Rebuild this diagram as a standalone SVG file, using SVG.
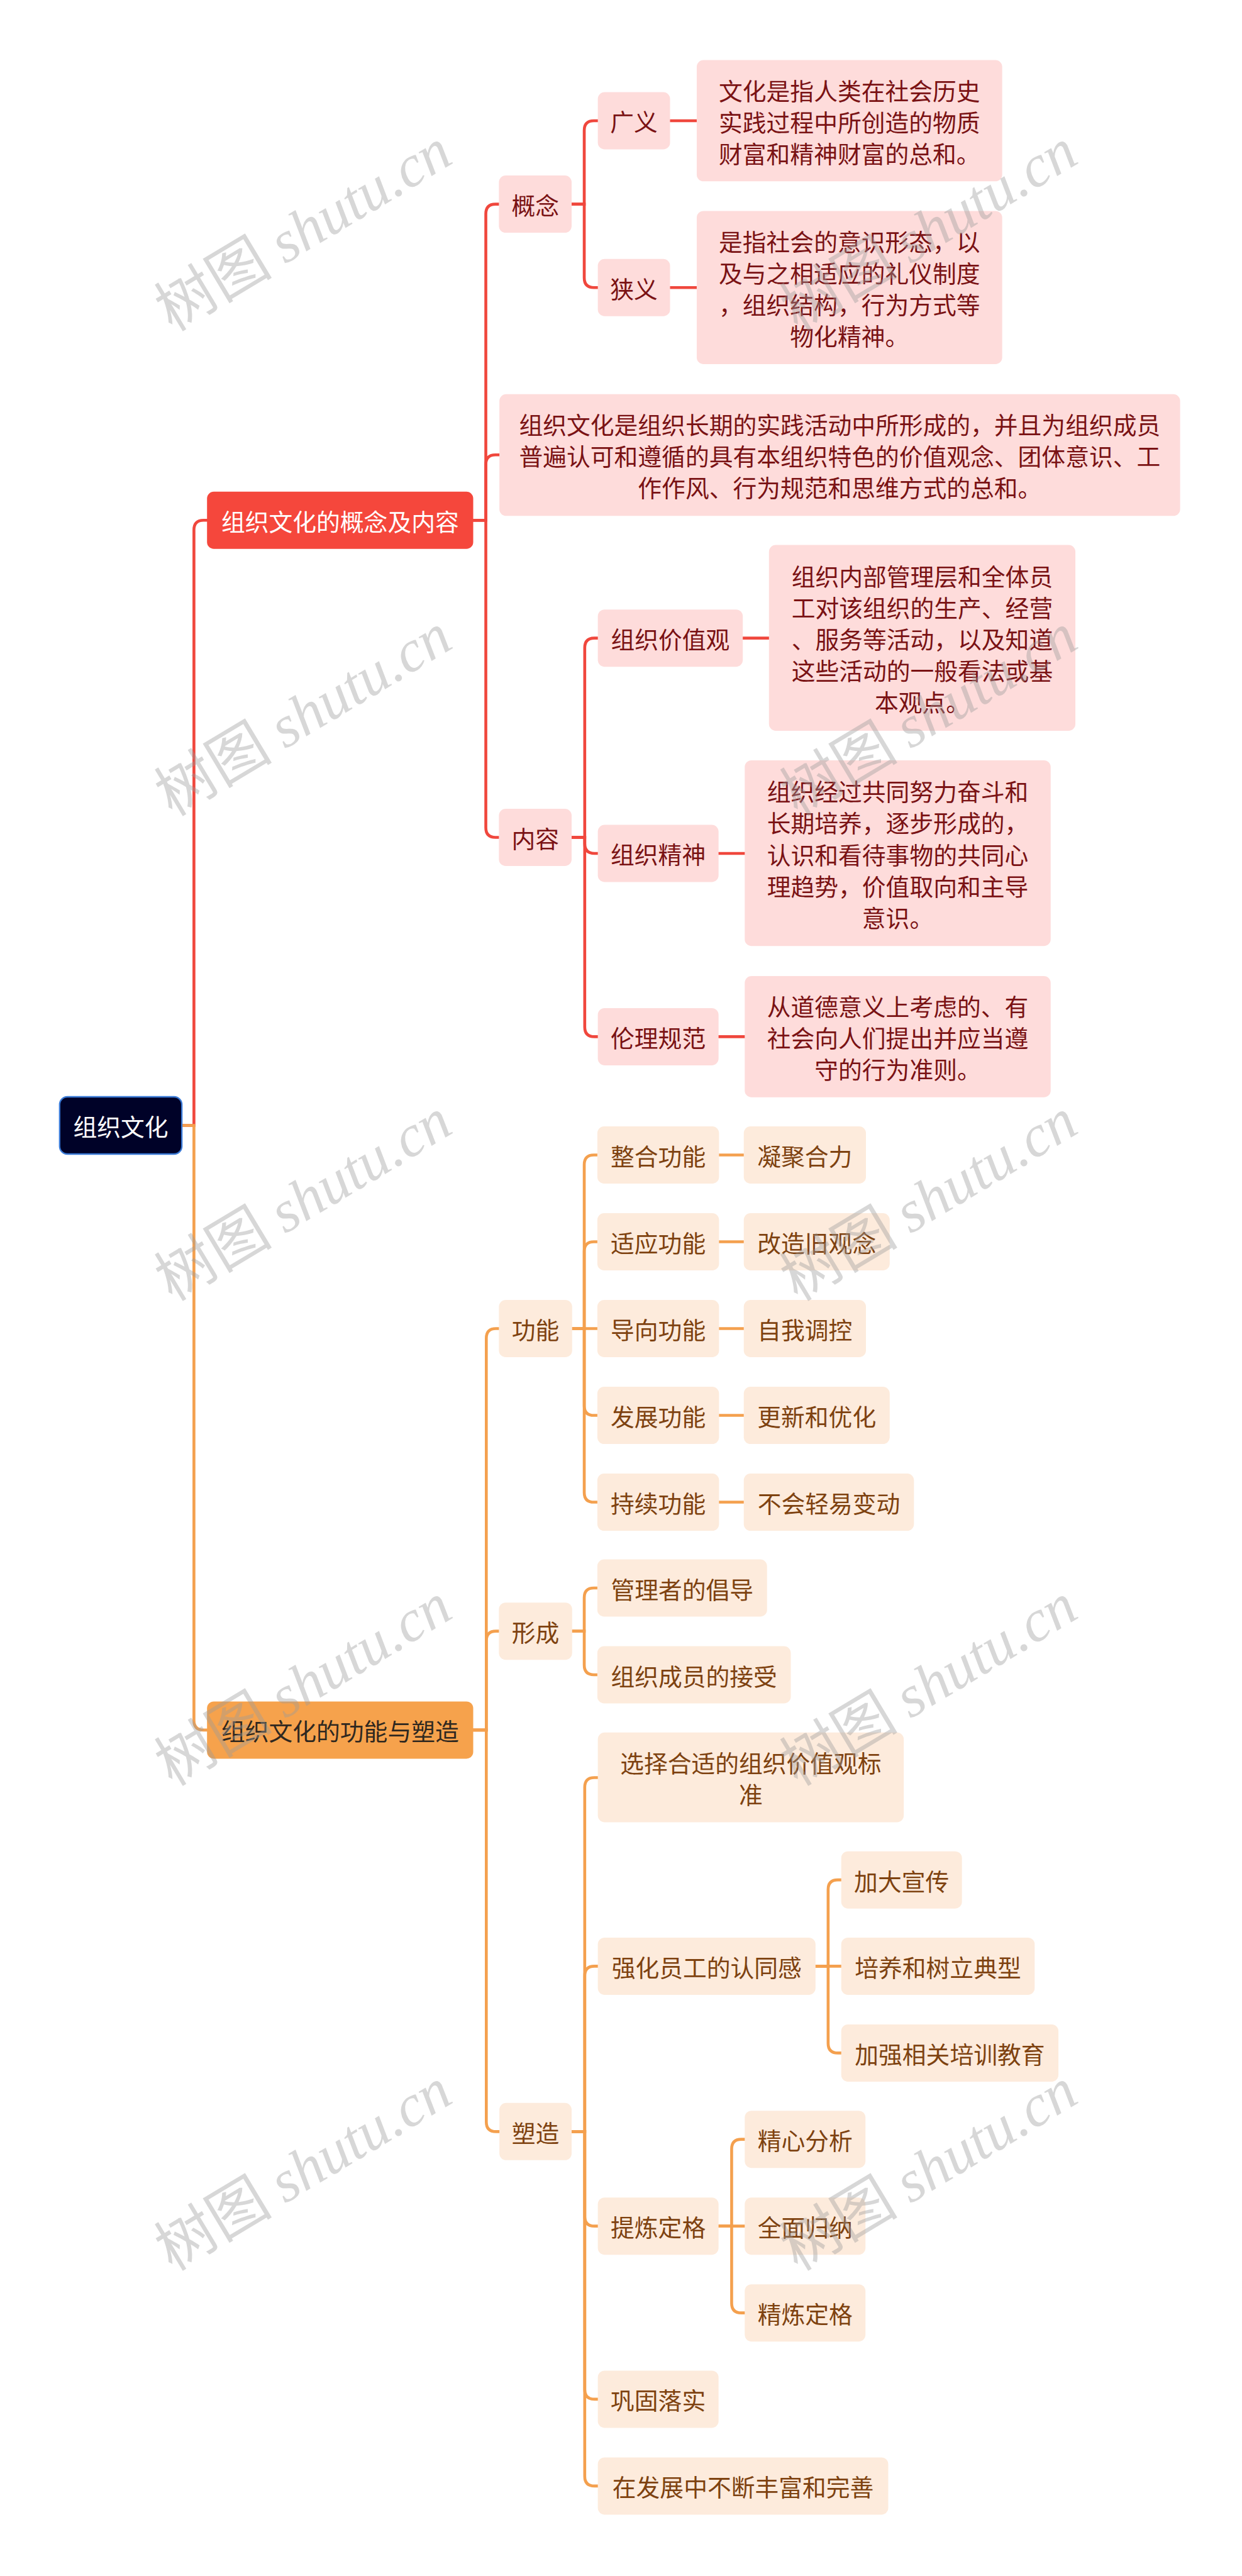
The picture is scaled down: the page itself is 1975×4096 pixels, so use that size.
<svg xmlns="http://www.w3.org/2000/svg" width="1975" height="4096" viewBox="0 0 1975 4096">
<style>
text{font-family:"Noto Sans CJK SC","Noto Sans",sans-serif;font-size:49px;text-anchor:middle;dominant-baseline:central}
.root rect{fill:#000228;stroke:#3a7ad6;stroke-width:3}
.root text{fill:#ffffff}
.b1 rect{fill:#f5473c}
.b1 text{fill:#ffffff}
.b2 rect{fill:#f6a24c}
.b2 text{fill:#2f2820}
.p rect{fill:#fedcdb}
.p text{fill:#7a1214}
.o rect{fill:#fdebdc}
.o text{fill:#7e4210}
.cr path{fill:none;stroke:#f0473d;stroke-width:6;stroke-linecap:round}
.co path{fill:none;stroke:#f4a04e;stroke-width:6;stroke-linecap:round}
.wm{font-size:122px;fill:#9a9a9a;fill-opacity:0.4;text-anchor:start;dominant-baseline:alphabetic}
.wm .en{font-family:"Liberation Serif",serif;font-style:italic}
.wm .cn{font-family:"Noto Sans CJK SC",serif}
</style>
<rect x="0" y="0" width="1975" height="4096" fill="#ffffff"/>
<g transform="scale(0.771)">
<g id="connectors">
<g class="cr">
<path d="M375 2321 H400 V1093 Q400 1073 420 1073 H427"/>
<path d="M976 1073 H1002 V441 Q1002 421 1022 421 H1029"/>
<path d="M976 1073 H1002 V958 Q1002 938 1022 938 H1030"/>
<path d="M976 1073 H1002 V1707 Q1002 1727 1022 1727 H1029"/>
<path d="M1179 421 H1205 V269 Q1205 249 1225 249 H1233"/>
<path d="M1179 421 H1205 V573 Q1205 593 1225 593 H1233"/>
<path d="M1382 249 H1437"/>
<path d="M1382 593 H1437"/>
<path d="M1179 1727 H1206 V1336 Q1206 1316 1226 1316 H1233"/>
<path d="M1179 1727 H1206 V1740 Q1206 1760 1226 1760 H1233"/>
<path d="M1179 1727 H1206 V2118 Q1206 2138 1226 2138 H1233"/>
<path d="M1532 1316 H1586"/>
<path d="M1482 1760 H1536"/>
<path d="M1482 2138 H1536"/>
</g>
<g class="co">
<path d="M375 2321 H400 V3548 Q400 3568 420 3568 H427"/>
<path d="M976 3568 H1003 V2760 Q1003 2740 1023 2740 H1029"/>
<path d="M976 3568 H1003 V3384 Q1003 3364 1023 3364 H1029"/>
<path d="M976 3568 H1003 V4376 Q1003 4396 1023 4396 H1030"/>
<path d="M1180 2740 H1205 V2402 Q1205 2382 1225 2382 H1232"/>
<path d="M1180 2740 H1205 V2581 Q1205 2561 1225 2561 H1232"/>
<path d="M1180 2740 H1232"/>
<path d="M1180 2740 H1205 V2899 Q1205 2919 1225 2919 H1232"/>
<path d="M1180 2740 H1205 V3078 Q1205 3098 1225 3098 H1232"/>
<path d="M1483 2382 H1534"/>
<path d="M1483 2561 H1534"/>
<path d="M1483 2740 H1534"/>
<path d="M1483 2919 H1534"/>
<path d="M1483 3098 H1534"/>
<path d="M1180 3364 H1205 V3295 Q1205 3275 1225 3275 H1232"/>
<path d="M1180 3364 H1205 V3434 Q1205 3454 1225 3454 H1232"/>
<path d="M1179 4396 H1206 V3686 Q1206 3666 1226 3666 H1233"/>
<path d="M1179 4396 H1206 V4075 Q1206 4055 1226 4055 H1233"/>
<path d="M1179 4396 H1206 V4571 Q1206 4591 1226 4591 H1233"/>
<path d="M1179 4396 H1206 V4928 Q1206 4948 1226 4948 H1233"/>
<path d="M1179 4396 H1206 V5107 Q1206 5127 1226 5127 H1233"/>
<path d="M1682 4055 H1708 V3897 Q1708 3877 1728 3877 H1735"/>
<path d="M1682 4055 H1735"/>
<path d="M1682 4055 H1708 V4214 Q1708 4234 1728 4234 H1735"/>
<path d="M1482 4591 H1509 V4432 Q1509 4412 1529 4412 H1536"/>
<path d="M1482 4591 H1536"/>
<path d="M1482 4591 H1509 V4750 Q1509 4770 1529 4770 H1536"/>
</g>
</g>

<g id="root" class="root"><rect x="123" y="2262" width="252" height="118" rx="16"/><text x="249" y="2321">组织文化</text></g>

<g id="b1" class="b1"><rect x="427" y="1014" width="549" height="118" rx="14"/><text x="701.5" y="1073">组织文化的概念及内容</text></g>
<g id="gainian" class="p"><rect x="1029" y="362" width="150" height="118" rx="14"/><text x="1104" y="421">概念</text></g>
<g id="guangyi" class="p"><rect x="1233" y="190" width="149" height="118" rx="14"/><text x="1307.5" y="249">广义</text></g>
<g id="guangyi-t" class="p"><rect x="1437" y="124" width="630" height="250" rx="14"/><text x="1752"><tspan x="1752" y="184">文化是指人类在社会历史</tspan><tspan x="1752" y="249">实践过程中所创造的物质</tspan><tspan x="1752" y="314">财富和精神财富的总和。</tspan></text></g>
<g id="xiayi" class="p"><rect x="1233" y="534" width="149" height="118" rx="14"/><text x="1307.5" y="593">狭义</text></g>
<g id="xiayi-t" class="p"><rect x="1437" y="435" width="630" height="316" rx="14"/><text x="1752"><tspan x="1752" y="495.5">是指社会的意识形态，以</tspan><tspan x="1752" y="560.5">及与之相适应的礼仪制度</tspan><tspan x="1752" y="625.5">，组织结构，行为方式等</tspan><tspan x="1752" y="690.5">物化精神。</tspan></text></g>
<g id="dingyi" class="p"><rect x="1030" y="813" width="1404" height="251" rx="14"/><text x="1732"><tspan x="1732" y="873">组织文化是组织长期的实践活动中所形成的，并且为组织成员</tspan><tspan x="1732" y="938">普遍认可和遵循的具有本组织特色的价值观念、团体意识、工</tspan><tspan x="1732" y="1003">作作风、行为规范和思维方式的总和。</tspan></text></g>
<g id="neirong" class="p"><rect x="1029" y="1668" width="150" height="118" rx="14"/><text x="1104" y="1727">内容</text></g>
<g id="jiazhiguan" class="p"><rect x="1233" y="1257" width="299" height="118" rx="14"/><text x="1382.5" y="1316">组织价值观</text></g>
<g id="jiazhiguan-t" class="p"><rect x="1586" y="1124" width="632" height="383" rx="14"/><text x="1902"><tspan x="1902" y="1185.5">组织内部管理层和全体员</tspan><tspan x="1902" y="1250.5">工对该组织的生产、经营</tspan><tspan x="1902" y="1315.5">、服务等活动，以及知道</tspan><tspan x="1902" y="1380.5">这些活动的一般看法或基</tspan><tspan x="1902" y="1445.5">本观点。</tspan></text></g>
<g id="jingshen" class="p"><rect x="1233" y="1701" width="249" height="118" rx="14"/><text x="1357.5" y="1760">组织精神</text></g>
<g id="jingshen-t" class="p"><rect x="1536" y="1568" width="631" height="383" rx="14"/><text x="1851.5"><tspan x="1851.5" y="1629.5">组织经过共同努力奋斗和</tspan><tspan x="1851.5" y="1694.5">长期培养，逐步形成的，</tspan><tspan x="1851.5" y="1759.5">认识和看待事物的共同心</tspan><tspan x="1851.5" y="1824.5">理趋势，价值取向和主导</tspan><tspan x="1851.5" y="1889.5">意识。</tspan></text></g>
<g id="lunli" class="p"><rect x="1233" y="2079" width="249" height="118" rx="14"/><text x="1357.5" y="2138">伦理规范</text></g>
<g id="lunli-t" class="p"><rect x="1536" y="2013" width="631" height="250" rx="14"/><text x="1851.5"><tspan x="1851.5" y="2073">从道德意义上考虑的、有</tspan><tspan x="1851.5" y="2138">社会向人们提出并应当遵</tspan><tspan x="1851.5" y="2203">守的行为准则。</tspan></text></g>

<g id="b2" class="b2"><rect x="427" y="3509" width="549" height="118" rx="14"/><text x="701.5" y="3568">组织文化的功能与塑造</text></g>
<g id="gongneng" class="o"><rect x="1029" y="2681" width="151" height="118" rx="14"/><text x="1104.5" y="2740">功能</text></g>
<g id="zhenghe" class="o"><rect x="1232" y="2323" width="251" height="118" rx="14"/><text x="1357.5" y="2382">整合功能</text></g>
<g id="ningju" class="o"><rect x="1534" y="2323" width="252" height="118" rx="14"/><text x="1660" y="2382">凝聚合力</text></g>
<g id="shiying" class="o"><rect x="1232" y="2502" width="251" height="118" rx="14"/><text x="1357.5" y="2561">适应功能</text></g>
<g id="gaizao" class="o"><rect x="1534" y="2502" width="301" height="118" rx="14"/><text x="1684.5" y="2561">改造旧观念</text></g>
<g id="daoxiang" class="o"><rect x="1232" y="2681" width="251" height="118" rx="14"/><text x="1357.5" y="2740">导向功能</text></g>
<g id="ziwo" class="o"><rect x="1534" y="2681" width="252" height="118" rx="14"/><text x="1660" y="2740">自我调控</text></g>
<g id="fazhan" class="o"><rect x="1232" y="2860" width="251" height="118" rx="14"/><text x="1357.5" y="2919">发展功能</text></g>
<g id="gengxin" class="o"><rect x="1534" y="2860" width="301" height="118" rx="14"/><text x="1684.5" y="2919">更新和优化</text></g>
<g id="chixu" class="o"><rect x="1232" y="3039" width="251" height="118" rx="14"/><text x="1357.5" y="3098">持续功能</text></g>
<g id="buhui" class="o"><rect x="1534" y="3039" width="351" height="118" rx="14"/><text x="1709.5" y="3098">不会轻易变动</text></g>
<g id="xingcheng" class="o"><rect x="1029" y="3305" width="151" height="118" rx="14"/><text x="1104.5" y="3364">形成</text></g>
<g id="changdao" class="o"><rect x="1232" y="3216" width="350" height="118" rx="14"/><text x="1407" y="3275">管理者的倡导</text></g>
<g id="jieshou" class="o"><rect x="1232" y="3395" width="399" height="118" rx="14"/><text x="1431.5" y="3454">组织成员的接受</text></g>
<g id="suzao" class="o"><rect x="1030" y="4337" width="149" height="118" rx="14"/><text x="1104.5" y="4396">塑造</text></g>
<g id="xuanze" class="o"><rect x="1233" y="3573" width="631" height="185" rx="14"/><text x="1548.5"><tspan x="1548.5" y="3633">选择合适的组织价值观标</tspan><tspan x="1548.5" y="3698">准</tspan></text></g>
<g id="qianghua" class="o"><rect x="1233" y="3996" width="449" height="118" rx="14"/><text x="1457.5" y="4055">强化员工的认同感</text></g>
<g id="jiada" class="o"><rect x="1735" y="3818" width="249" height="118" rx="14"/><text x="1859.5" y="3877">加大宣传</text></g>
<g id="peiyang" class="o"><rect x="1735" y="3996" width="399" height="118" rx="14"/><text x="1934.5" y="4055">培养和树立典型</text></g>
<g id="jiaqiang" class="o"><rect x="1735" y="4175" width="448" height="118" rx="14"/><text x="1959" y="4234">加强相关培训教育</text></g>
<g id="tilian" class="o"><rect x="1233" y="4532" width="249" height="118" rx="14"/><text x="1357.5" y="4591">提炼定格</text></g>
<g id="jingxin" class="o"><rect x="1536" y="4353" width="249" height="118" rx="14"/><text x="1660.5" y="4412">精心分析</text></g>
<g id="quanmian" class="o"><rect x="1536" y="4532" width="249" height="118" rx="14"/><text x="1660.5" y="4591">全面归纳</text></g>
<g id="jinglian" class="o"><rect x="1536" y="4711" width="249" height="118" rx="14"/><text x="1660.5" y="4770">精炼定格</text></g>
<g id="gonggu" class="o"><rect x="1233" y="4889" width="249" height="118" rx="14"/><text x="1357.5" y="4948">巩固落实</text></g>
<g id="fengfu" class="o"><rect x="1233" y="5068" width="599" height="118" rx="14"/><text x="1532.5" y="5127">在发展中不断丰富和完善</text></g>

<g id="watermarks">
<text class="wm" transform="translate(355 685) rotate(-31)"><tspan class="cn">树图</tspan> <tspan class="en">shutu.cn</tspan></text>
<text class="wm" transform="translate(1645 685) rotate(-31)"><tspan class="cn">树图</tspan> <tspan class="en">shutu.cn</tspan></text>
<text class="wm" transform="translate(355 1685) rotate(-31)"><tspan class="cn">树图</tspan> <tspan class="en">shutu.cn</tspan></text>
<text class="wm" transform="translate(1645 1685) rotate(-31)"><tspan class="cn">树图</tspan> <tspan class="en">shutu.cn</tspan></text>
<text class="wm" transform="translate(355 2685) rotate(-31)"><tspan class="cn">树图</tspan> <tspan class="en">shutu.cn</tspan></text>
<text class="wm" transform="translate(1645 2685) rotate(-31)"><tspan class="cn">树图</tspan> <tspan class="en">shutu.cn</tspan></text>
<text class="wm" transform="translate(355 3685) rotate(-31)"><tspan class="cn">树图</tspan> <tspan class="en">shutu.cn</tspan></text>
<text class="wm" transform="translate(1645 3685) rotate(-31)"><tspan class="cn">树图</tspan> <tspan class="en">shutu.cn</tspan></text>
<text class="wm" transform="translate(355 4685) rotate(-31)"><tspan class="cn">树图</tspan> <tspan class="en">shutu.cn</tspan></text>
<text class="wm" transform="translate(1645 4685) rotate(-31)"><tspan class="cn">树图</tspan> <tspan class="en">shutu.cn</tspan></text>
</g>
</g>
</svg>
